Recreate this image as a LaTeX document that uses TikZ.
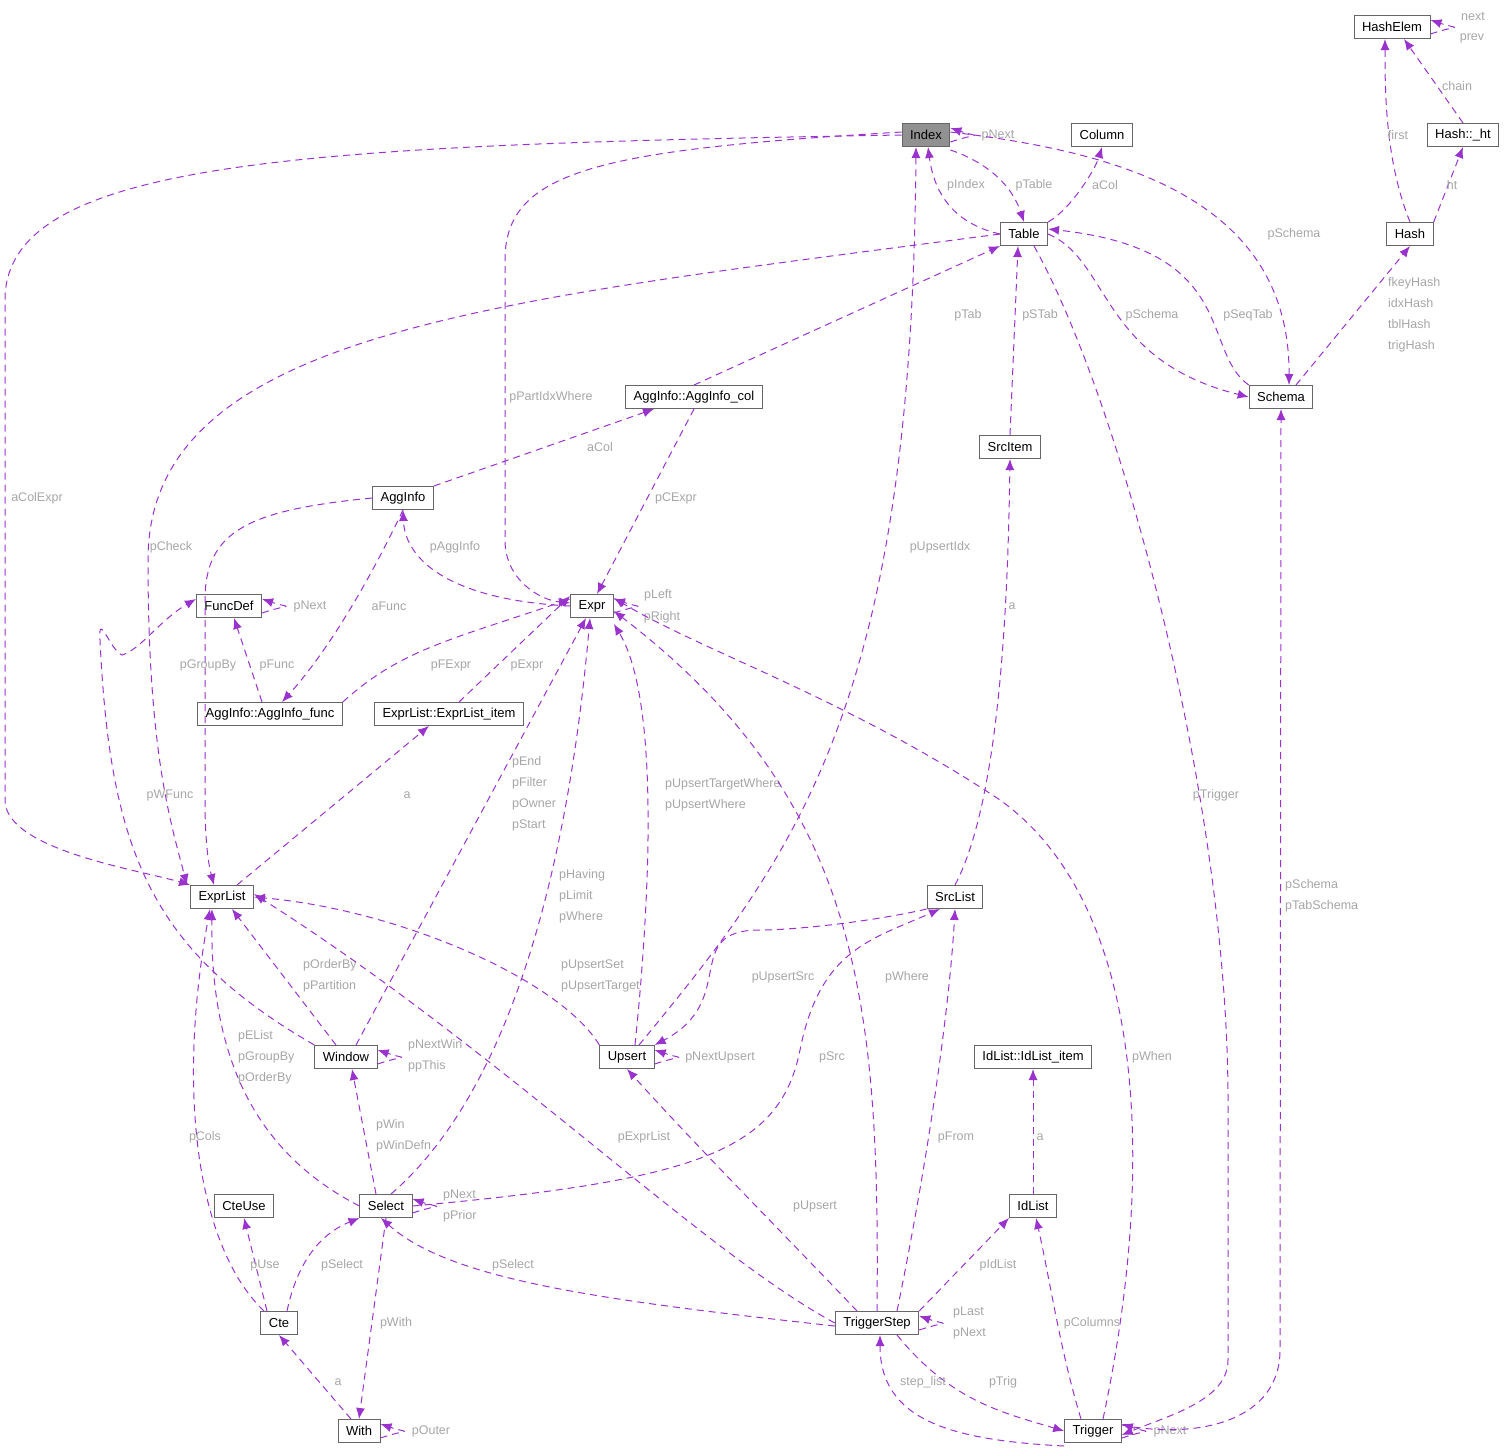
\documentclass[tikz,border=0pt]{standalone}
\usepackage{fontspec}
\setmainfont{Liberation Sans}
\usetikzlibrary{arrows.meta}
\begin{document}
\begin{tikzpicture}[x=1pt,y=-1pt,
 cls/.style={draw=black!60,line width=1pt,fill=white,minimum height=23pt,inner xsep=8pt,inner ysep=2pt,font=\fontsize{13}{15}\selectfont},
 e/.style={draw={rgb,255:red,154;green,50;blue,205},line width=1pt,dash pattern=on 7pt off 5pt,-{Latex[length=11pt,width=9pt]}},
 lbl/.style={text=black!35,font=\fontsize{12.5}{21}\selectfont,inner sep=0pt,align=left}]
\useasboundingbox (0,0) rectangle (1509,1451);
\node[cls] (HashElem) at (1392,27) {HashElem};
\node[cls] (Ht) at (1463,135) {Hash::\_ht};
\node[cls,fill=black!43] (Index) at (926,135) {Index};
\node[cls] (Column) at (1102,135) {Column};
\node[cls] (Table) at (1024,234) {Table};
\node[cls] (Hash) at (1410,234) {Hash};
\node[cls] (Schema) at (1281,397) {Schema};
\node[cls] (AggCol) at (694,397) {AggInfo::AggInfo\_col};
\node[cls] (SrcItem) at (1010,447) {SrcItem};
\node[cls] (AggInfo) at (403,498) {AggInfo};
\node[cls] (FuncDef) at (229,606) {FuncDef};
\node[cls] (Expr) at (592,606) {Expr};
\node[cls] (AggFunc) at (270,714) {AggInfo::AggInfo\_func};
\node[cls] (ELItem) at (449,714) {ExprList::ExprList\_item};
\node[cls] (ExprList) at (222,897) {ExprList};
\node[cls] (SrcList) at (955,897) {SrcList};
\node[cls] (Window) at (346,1057) {Window};
\node[cls] (Upsert) at (627,1057) {Upsert};
\node[cls] (IdItem) at (1033,1057) {IdList::IdList\_item};
\node[cls] (CteUse) at (244,1206) {CteUse};
\node[cls] (Select) at (386,1206) {Select};
\node[cls] (IdList) at (1033,1206) {IdList};
\node[cls] (Cte) at (279,1323) {Cte};
\node[cls] (TStep) at (877,1323) {TriggerStep};
\node[cls] (With) at (359,1431) {With};
\node[cls] (Trigger) at (1093,1431) {Trigger};

% hash
\draw[e] ([yshift=-7]HashElem.east) .. controls +(30,-10) and +(30,10) .. ([yshift=7]HashElem.east);
\node[lbl] (l1) at (1473,17) {next};
\node[lbl] (l2) at (1472,38) {prev};
\draw[e] (Ht.north) -- ([xshift=12]HashElem.south);
\node[lbl] (l3) at (1457,86) {chain};
\draw[e] (Hash.north) .. controls (1385,160) and (1385,90) .. ([xshift=-7]HashElem.south);
\node[lbl] (l4) at (1398,135) {first};
\draw[e] (Hash.north east) -- (Ht.south);
\node[lbl] (l5) at (1452,185) {ht};
\draw[e] ([xshift=15]Schema.north) -- (Hash.south);
\node[lbl,anchor=west] (l6) at (1388,315) {fkeyHash\\idxHash\\tblHash\\trigHash};
% index
\draw[e] ([yshift=-7]Index.east) .. controls +(30,-10) and +(30,10) .. ([yshift=7]Index.east);
\node[lbl] (l7) at (998,135) {pNext};
\draw[e] ([yshift=-3]Index.south east) .. controls (980,160) and (1010,180) .. (Table.north);
\node[lbl] (l8) at (1034,185) {pTable};
\draw[e] (Table.west) .. controls (960,225) and (935,200) .. ([xshift=2]Index.south);
\node[lbl] (l9) at (966,185) {pIndex};
\draw[e] (Table.north east) .. controls (1070,210) and (1095,170) .. (Column.south);
\node[lbl] (l10) at (1105,185) {aCol};
\draw[e] ([yshift=3]Index.east) .. controls (1100,150) and (1290,190) .. ([xshift=8]Schema.north);
\node[lbl] (l11) at (1294,234) {pSchema};
\draw[e] (Index.west) .. controls (300,145) and (5,160) .. (5,300) -- (5,800) .. controls (5,850) and (140,870) .. (ExprList.north west);
\node[lbl] (l12) at (37,498) {aColExpr};
\draw[e] ([yshift=3]Index.west) .. controls (600,150) and (505,170) .. (505,260) -- (505,540) .. controls (505,580) and (540,600) .. ([yshift=3]Expr.west);
\node[lbl] (l13) at (551,397) {pPartIdxWhere};
\draw[e] (Table.east) .. controls (1110,260) and (1100,360) .. (Schema.west);
\node[lbl] (l14) at (1152,315) {pSchema};
\draw[e] (Schema.north west) .. controls (1200,350) and (1240,250) .. ([yshift=5]Table.east);
\node[lbl] (l15) at (1248,315) {pSeqTab};
\draw[e] (Table.west) .. controls (500,300) and (148,330) .. (148,560) .. controls (148,750) and (170,820) .. ([xshift=-35]ExprList.north);
\node[lbl] (l16) at (171,547) {pCheck};
\draw[e] (AggCol.north) -- (Table.south west);
\node[lbl] (l17) at (968,315) {pTab};
\draw[e] (SrcItem.north) -- ([xshift=-6]Table.south);
\node[lbl] (l18) at (1040,315) {pSTab};
\draw[e] ([xshift=10]Table.south) .. controls (1120,400) and (1228,800) .. (1228,1100) -- (1228,1360) .. controls (1228,1400) and (1170,1415) .. ([yshift=-4]Trigger.east);
\node[lbl] (l19) at (1216,795) {pTrigger};
% agginfo
\draw[e] (AggCol.south) -- ([xshift=5]Expr.north);
\node[lbl] (l20) at (676,498) {pCExpr};
\draw[e] (AggInfo.north east) -- ([xshift=-40]AggCol.south);
\node[lbl] (l21) at (600,447) {aCol};
\draw[e] (AggInfo.west) .. controls (250,510) and (205,530) .. (205,600) -- (205,800) .. controls (205,850) and (210,870) .. ([xshift=-8]ExprList.north);
\node[lbl] (l22) at (208,665) {pGroupBy};
\draw[e] (AggInfo.south) .. controls (360,600) and (320,660) .. ([xshift=12]AggFunc.north);
\node[lbl] (l23) at (389,606) {aFunc};
\draw[e] (Expr.west) .. controls (450,600) and (405,560) .. (AggInfo.south);
\node[lbl] (l24) at (455,547) {pAggInfo};
\draw[e] ([yshift=-7]Expr.east) .. controls +(30,-10) and +(30,10) .. ([yshift=7]Expr.east);
\node[lbl] (l25) at (658,595) {pLeft};
\node[lbl] (l26) at (662,617) {pRight};
\draw[e] ([xshift=-8]AggFunc.north) -- ([xshift=5]FuncDef.south);
\node[lbl] (l27) at (277,665) {pFunc};
\draw[e] (AggFunc.north east) .. controls (400,650) and (450,640) .. ([yshift=7]Expr.west);
\node[lbl] (l28) at (451,665) {pFExpr};
\draw[e] ([yshift=-7]FuncDef.east) .. controls +(30,-10) and +(30,10) .. ([yshift=7]FuncDef.east);
\node[lbl] (l29) at (310,606) {pNext};
\draw[e] ([xshift=10]ELItem.north) -- ([yshift=10]Expr.west);
\node[lbl] (l30) at (527,665) {pExpr};
\draw[e] ([xshift=15]ExprList.north) -- ([xshift=-20]ELItem.south);
\node[lbl] (l31) at (407,795) {a};
% window
\draw[e] (Window.north west) .. controls (150,950) and (110,850) .. (100,640) .. controls (98,610) and (110,650) .. (122,655) .. controls (140,650) and (160,620) .. ([yshift=7]FuncDef.west);
\node[lbl] (l32) at (170,795) {pWFunc};
\draw[e] ([xshift=10]Window.north) -- ([xshift=-6]Expr.south);
\node[lbl,anchor=north west] (l33) at (512,756) {pEnd\\pFilter\\pOwner\\pStart};
\draw[e] ([xshift=-10]Window.north) -- ([xshift=10]ExprList.south);
\node[lbl,anchor=west] (l34) at (303,976) {pOrderBy\\pPartition};
\draw[e] ([yshift=-7]Window.east) .. controls +(30,-10) and +(30,10) .. ([yshift=7]Window.east);
\node[lbl,anchor=west] (l35) at (408,1056) {pNextWin\\ppThis};
% select
\draw[e] ([xshift=5]Select.north) .. controls (500,1100) and (565,900) .. ([xshift=-2]Expr.south);
\node[lbl,anchor=west] (l36) at (559,896) {pHaving\\pLimit\\pWhere};
\draw[e] ([xshift=8]Upsert.north) .. controls (650,900) and (660,700) .. ([yshift=-6]Expr.south east);
\node[lbl,anchor=west] (l37) at (665,795) {pUpsertTargetWhere\\pUpsertWhere};
\draw[e] (Upsert.north west) .. controls (560,980) and (400,910) .. (ExprList.east);
\node[lbl,anchor=west] (l38) at (561,976) {pUpsertSet\\pUpsertTarget};
\draw[e] ([xshift=12]Upsert.north) .. controls (800,850) and (912,700) .. ([xshift=-10]Index.south);
\node[lbl] (l39) at (940,547) {pUpsertIdx};
\draw[e] (SrcList.south west) .. controls (880,920) and (800,930) .. (760,930) .. controls (680,930) and (740,1000) .. (Upsert.north east);
\node[lbl] (l40) at (783,977) {pUpsertSrc};
\draw[e] ([yshift=-7]Upsert.east) .. controls +(30,-10) and +(30,10) .. ([yshift=7]Upsert.east);
\node[lbl] (l41) at (720,1057) {pNextUpsert};
\draw[e] (TStep.north) .. controls (880,1000) and (860,800) .. ([yshift=-5]Expr.east);
\node[lbl] (l42) at (907,977) {pWhere};
\draw[e] ([xshift=10]Trigger.north) .. controls (1160,1150) and (1140,900) .. (1000,800) .. controls (850,700) and (700,650) .. ([yshift=8]Expr.east);
\node[lbl] (l43) at (1152,1057) {pWhen};
\draw[e] (SrcList.north) .. controls (1000,800) and (1008,600) .. (SrcItem.south);
\node[lbl] (l44) at (1012,606) {a};
\draw[e] (Select.east) .. controls (700,1180) and (780,1150) .. (800,1050) .. controls (820,950) and (870,940) .. ([xshift=-15]SrcList.south);
\node[lbl] (l45) at (832,1057) {pSrc};
\draw[e] ([xshift=20]TStep.north) .. controls (930,1150) and (950,1000) .. (SrcList.south);
\node[lbl] (l46) at (956,1137) {pFrom};
\draw[e] ([xshift=-10]Select.north) -- ([xshift=6]Window.south);
\node[lbl,anchor=west] (l47) at (376,1136) {pWin\\pWinDefn};
\draw[e] (Select.west) .. controls (250,1150) and (210,1050) .. ([xshift=-10]ExprList.south);
\node[lbl,anchor=west] (l48) at (238,1057) {pEList\\pGroupBy\\pOrderBy};
\draw[e] ([xshift=-15]Cte.north) .. controls (200,1250) and (175,1100) .. ([xshift=-12]ExprList.south);
\node[lbl] (l49) at (205,1137) {pCols};
\draw[e] ([yshift=-7]Select.east) .. controls +(30,-10) and +(30,10) .. ([yshift=7]Select.east);
\node[lbl,anchor=west] (l50) at (443,1206) {pNext\\pPrior};
\draw[e] (Select.south) -- (With.north);
\node[lbl] (l51) at (396,1323) {pWith};
\draw[e] ([xshift=-12]Cte.north) -- (CteUse.south);
\node[lbl] (l52) at (265,1265) {pUse};
\draw[e] ([xshift=8]Cte.north) .. controls (300,1250) and (330,1230) .. (Select.south west);
\node[lbl] (l53) at (342,1265) {pSelect};
\draw[e] ([xshift=-8]With.north) -- (Cte.south);
\node[lbl] (l54) at (338,1382) {a};
\draw[e] ([yshift=-7]With.east) .. controls +(30,-10) and +(30,10) .. ([yshift=7]With.east);
\node[lbl] (l55) at (431,1431) {pOuter};
% trigger step
\draw[e] (TStep.west) .. controls (700,1250) and (500,1050) .. ([yshift=3]ExprList.east);
\node[lbl] (l56) at (644,1137) {pExprList};
\draw[e] ([xshift=-20]TStep.north) .. controls (780,1230) and (700,1150) .. (Upsert.south);
\node[lbl] (l57) at (815,1206) {pUpsert};
\draw[e] ([yshift=-3]TStep.west) .. controls (600,1300) and (450,1280) .. ([xshift=-5]Select.south);
\node[lbl] (l58) at (513,1265) {pSelect};
\draw[e] (TStep.north east) -- (IdList.south west);
\node[lbl] (l59) at (998,1265) {pIdList};
\draw[e] ([yshift=-7]TStep.east) .. controls +(30,-10) and +(30,10) .. ([yshift=7]TStep.east);
\node[lbl,anchor=west] (l60) at (953,1323) {pLast\\pNext};
\draw[e] ([xshift=20]TStep.south) .. controls (950,1400) and (1000,1412) .. (Trigger.west);
\node[lbl] (l61) at (1003,1382) {pTrig};
\draw[e] ([yshift=-3]Trigger.south west) .. controls (950,1440) and (880,1420) .. ([xshift=3]TStep.south);
\node[lbl] (l62) at (923,1382) {step\_list};
\draw[e] (IdList.north) -- (IdItem.south);
\node[lbl] (l63) at (1040,1137) {a};
\draw[e] ([xshift=-12]Trigger.north) .. controls (1060,1350) and (1050,1280) .. ([xshift=3]IdList.south);
\node[lbl] (l64) at (1092,1323) {pColumns};
\draw[e] ([yshift=-7]Trigger.east) .. controls +(30,-10) and +(30,10) .. ([yshift=7]Trigger.east);
\node[lbl] (l65) at (1170,1431) {pNext};
\draw[e] ([yshift=6]Trigger.east) .. controls (1200,1440) and (1280,1420) .. (1280,1350) -- (Schema.south);
\node[lbl,anchor=west] (l66) at (1285,896) {pSchema\\pTabSchema};
\end{tikzpicture}
\end{document}
